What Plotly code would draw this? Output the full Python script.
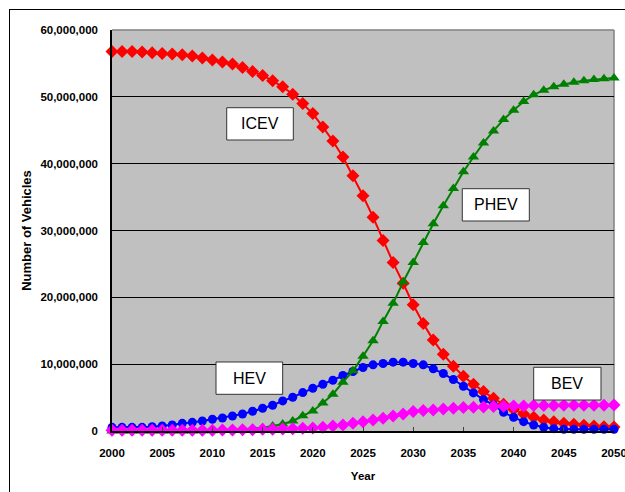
import plotly.graph_objects as go

years = list(range(2000, 2051))

# values in millions of vehicles
icev = [56.8, 56.8, 56.8, 56.7, 56.6, 56.5, 56.4, 56.3, 56.1, 55.8,
        55.5, 55.2, 54.9, 54.4, 53.8, 53.2, 52.4, 51.5, 50.4, 49.0,
        47.5, 45.5, 43.4, 41.0, 38.2, 35.2, 32.0, 28.5, 25.2, 22.1,
        18.9, 16.1, 13.6, 11.5, 9.7, 8.2, 7.0, 5.9, 4.9, 4.0,
        3.25, 2.55, 2.05, 1.65, 1.4, 1.15, 1.0, 0.85, 0.75, 0.65, 0.6]
hev = [0.55, 0.55, 0.55, 0.55, 0.65, 0.75, 0.9, 1.15, 1.3, 1.5,
       1.75, 1.95, 2.25, 2.55, 2.95, 3.4, 3.85, 4.5, 5.05, 5.75,
       6.4, 7.0, 7.6, 8.3, 8.9, 9.5, 9.9, 10.1, 10.3, 10.3,
       10.1, 9.9, 9.3, 8.6, 7.7, 6.7, 5.7, 4.7, 3.9, 2.8,
       2.05, 1.4, 0.9, 0.55, 0.35, 0.25, 0.25, 0.25, 0.25, 0.25, 0.25]
phev = [0.0, 0.0, 0.0, 0.0, 0.0, 0.0, 0.0, 0.0, 0.0, 0.02,
        0.05, 0.1, 0.15, 0.25, 0.35, 0.5, 0.75, 1.05, 1.5, 2.3,
        3.0, 4.2, 5.5, 7.3, 9.0, 11.2, 13.5, 16.4, 19.1, 22.3,
        25.2, 28.2, 31.0, 33.7, 36.3, 38.8, 41.0, 43.1, 44.9, 46.6,
        48.0, 49.3, 50.3, 51.0, 51.5, 51.9, 52.2, 52.4, 52.6, 52.7, 52.8]
bev = [0.1, 0.1, 0.1, 0.1, 0.1, 0.1, 0.1, 0.1, 0.1, 0.1,
       0.1, 0.15, 0.15, 0.2, 0.2, 0.25, 0.25, 0.3, 0.35, 0.4,
       0.45, 0.55, 0.75, 0.9, 1.15, 1.4, 1.65, 1.9, 2.25, 2.55,
       2.9, 3.05, 3.15, 3.3, 3.4, 3.5, 3.55, 3.6, 3.65, 3.7,
       3.75, 3.75, 3.8, 3.8, 3.8, 3.85, 3.85, 3.85, 3.85, 3.85, 3.9]

series_names = ["ICEV", "HEV", "PHEV", "BEV"]
series_values = [icev, hev, phev, bev]
series_colors = ["#FF0000", "#0000FF", "#008000", "#FF00FF"]
series_symbols = ["diamond", "circle", "triangle-up", "diamond"]
series_sizes = [10, 9, 10, 10]

y_ticks = [0, 10e6, 20e6, 30e6, 40e6, 50e6, 60e6]
x_ticks = list(range(2000, 2051, 5))

FONT = "Arial, Liberation Sans, sans-serif"

fig = go.Figure()
for name, vals, col, sym, sz in zip(series_names, series_values, series_colors,
                                    series_symbols, series_sizes):
    fig.add_trace(go.Scatter(
        x=years, y=[v * 1e6 for v in vals], name=name, mode="lines+markers",
        line=dict(color=col, width=2),
        marker=dict(color=col, symbol=sym, size=sz, line=dict(width=0)),
        cliponaxis=False, showlegend=False,
    ))

# label boxes (paper coords)
boxes = [
    ("ICEV", 0.2285, 0.3612, 0.7257, 0.8062),
    ("PHEV", 0.6978, 0.8313, 0.5237, 0.6042),
    ("HEV", 0.2072, 0.3400, 0.0915, 0.1721),
    ("BEV", 0.8400, 0.9741, 0.0773, 0.1589),
]
shapes = []
annotations = []
for txt, x0, x1, y0, y1 in boxes:
    shapes.append(dict(type="rect", xref="paper", yref="paper", x0=x0, x1=x1,
                       y0=y0, y1=y1, fillcolor="white",
                       line=dict(color="#333333", width=1), layer="above"))
    annotations.append(dict(text=txt, xref="paper", yref="paper",
                            x=(x0 + x1) / 2, y=(y0 + y1) / 2, showarrow=False,
                            xanchor="center", yanchor="middle",
                            font=dict(family=FONT, size=16, color="black")))

# gray plot-area border on top/right
shapes.append(dict(type="line", xref="paper", yref="paper", x0=0, x1=1, y0=1, y1=1,
                   line=dict(color="#808080", width=1.5), layer="between"))
shapes.append(dict(type="line", xref="paper", yref="paper", x0=1, x1=1, y0=0, y1=1,
                   line=dict(color="#808080", width=1.5), layer="between"))

# outer chart border: an empty bordered box anchored at the chart's top-left corner
annotations.append(dict(text=" ", xref="paper", yref="paper", x=-0.2052, y=1.0524,
                        xanchor="left", yanchor="top", width=700, height=600,
                        showarrow=False, bordercolor="black", borderwidth=1,
                        borderpad=0, bgcolor="rgba(0,0,0,0)"))

fig.update_layout(
    width=625, height=492,
    margin=dict(l=112, r=11, t=30, b=61, autoexpand=False),
    paper_bgcolor="white", plot_bgcolor="#C0C0C0",
    font=dict(family=FONT, size=11.5, color="black"),
    shapes=shapes, annotations=annotations,
    xaxis=dict(range=[2000, 2050], tickvals=x_ticks, ticks="inside", ticklen=4,
               tickcolor="#404040", showgrid=False, zeroline=False,
               showline=True, linecolor="black", linewidth=1.5,
               automargin=False, ticklabeloverflow="allow",
               tickfont=dict(family=FONT, size=11.5, weight="bold"),
               ticklabelstandoff=10,
               title=dict(text="Year", font=dict(family=FONT, size=11.5, weight="bold"),
                          standoff=14)),
    yaxis=dict(range=[0, 60e6], tickvals=y_ticks, tickformat=",d", ticks="",
               showgrid=True, gridcolor="black", gridwidth=1, zeroline=False,
               showline=True, linecolor="black", linewidth=1.5,
               automargin=False, ticklabeloverflow="allow",
               tickfont=dict(family=FONT, size=11.5, weight="bold"),
               ticklabelstandoff=10,
               title=dict(text="Number of Vehicles",
                          font=dict(family=FONT, size=13, weight="bold"),
                          standoff=6)),
)

fig.write_html("out.html", config={"displayModeBar": False},
               post_script="document.body.style.margin='0';"
                           "document.body.style.overflow='hidden';")
